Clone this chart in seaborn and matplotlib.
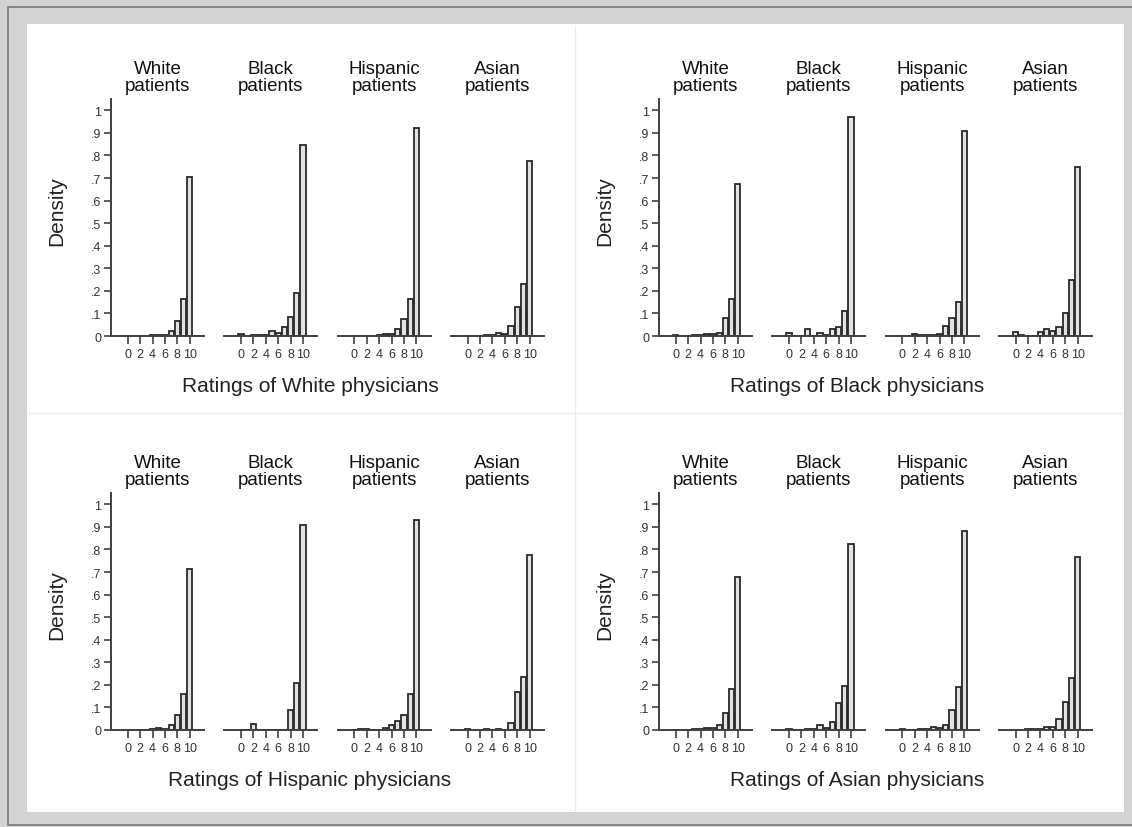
import matplotlib
matplotlib.use("Agg")
import matplotlib.pyplot as plt
from matplotlib.patches import Rectangle
from matplotlib.lines import Line2D
import seaborn as sns

ratings = list(range(11))
patient_groups = ["White", "Black", "Hispanic", "Asian"]
physician_groups = ["White", "Black", "Hispanic", "Asian"]

# density of each rating 0..10, one row per patient group (White, Black, Hispanic, Asian)
white_md = [
    [0, 0, 0, .002, .003, .005, .005, .02, .065, .165, .705],
    [.008, 0, .003, .004, .005, .02, .015, .04, .085, .19, .845],
    [.002, 0, .002, .002, .003, .01, .008, .03, .075, .165, .92],
    [0, 0, .002, .003, .005, .015, .01, .045, .13, .23, .775],
]
black_md = [
    [.003, 0, .002, .003, .003, .007, .007, .015, .078, .165, .675],
    [.015, 0, 0, .03, 0, .015, .005, .03, .04, .11, .97],
    [0, 0, .008, .003, .003, .003, .01, .045, .08, .15, .91],
    [.016, .003, 0, 0, .016, .03, .024, .042, .1, .25, .75],
]
hisp_md = [
    [0, 0, 0, 0, .003, .008, .005, .02, .065, .16, .715],
    [0, 0, .025, 0, 0, 0, 0, 0, .09, .21, .91],
    [0, .003, .003, 0, 0, .01, .02, .04, .065, .16, .93],
    [.005, 0, 0, .005, 0, .005, 0, .03, .17, .235, .775],
]
asian_md = [
    [0, 0, 0, .003, .003, .007, .007, .022, .075, .18, .68],
    [.003, 0, .002, .003, .003, .02, .01, .035, .12, .195, .825],
    [.003, 0, .002, .003, .005, .012, .007, .022, .09, .19, .88],
    [0, 0, .003, .005, .005, .015, .015, .05, .125, .23, .765],
]

sns.set_theme(style="white")
plt.rcParams["font.family"] = ["Liberation Sans", "DejaVu Sans"]

W, H = 1132, 828
fig = plt.figure(figsize=(W / 100, H / 100), dpi=100)
fig.patch.set_facecolor("#d3d3d3")

# window frame and white plot area
fig.add_artist(Rectangle((8 / W, 1 - 826 / H), 1.1, 818 / H, transform=fig.transFigure,
                         facecolor="#d3d3d3", edgecolor="#7a7a7a", lw=1.2, zorder=-10))
fig.add_artist(Rectangle((27 / W, 1 - 813 / H), (1124 - 27) / W, (813 - 25) / H,
                         transform=fig.transFigure, facecolor="white", edgecolor="none", zorder=-9))
fig.add_artist(Line2D([575 / W, 575 / W], [1 - 27 / H, 1 - 811 / H], transform=fig.transFigure,
                      color="#ececec", lw=1, zorder=-8))
fig.add_artist(Line2D([29 / W, 1122 / W], [1 - 414 / H, 1 - 414 / H], transform=fig.transFigure,
                      color="#ececec", lw=1, zorder=-8))

panels = [
    (white_md, physician_groups[0], 111, 337, 310),
    (black_md, physician_groups[1], 659, 337, 857),
    (hisp_md, physician_groups[2], 111, 731, 310),
    (asian_md, physician_groups[3], 659, 731, 857),
]

ink = "#333333"
for data, md, x0, y0, xlab in panels:
    for k, pt in enumerate(patient_groups):
        left = x0 + k * 113.3
        ax = fig.add_axes([left / W, 1 - y0 / H, 93 / W, 237 / H])
        ax.patch.set_alpha(0)
        sns.barplot(x=ratings, y=data[k], native_scale=True, width=0.85,
                    color="#e2e2e2", saturation=1, edgecolor="#2a2a2a",
                    linewidth=1.3, ax=ax)
        ax.set_xlim(-2.7, 12.3)
        ax.set_ylim(0, 1.05)
        ax.set_xlabel("")
        ax.set_ylabel("")
        ax.set_xticks([0, 2, 4, 6, 8, 10])
        ax.set_xticklabels(["0", "2", "4", "6", "8", "10"])
        ax.tick_params(axis="x", bottom=True, length=6, width=1.2, color="#404040",
                       labelsize=9, labelcolor=ink, pad=3)
        for s in ["top", "right"]:
            ax.spines[s].set_visible(False)
        ax.spines["bottom"].set_color("#404040")
        ax.spines["bottom"].set_linewidth(1.4)
        if k == 0:
            ax.spines["left"].set_color("#404040")
            ax.spines["left"].set_linewidth(1.4)
            yt = [i / 10 for i in range(11)]
            ax.set_yticks(yt)
            ax.set_yticklabels(["0"] + ["." + str(i) for i in range(1, 10)] + ["1"])
            ax.tick_params(axis="y", left=True, length=5, width=1.2, color="#404040",
                           labelsize=9, labelcolor=ink, pad=2)
        else:
            ax.spines["left"].set_visible(False)
            ax.set_yticks([])
        ax.text(0.5, 1.093, pt + "\npatients", transform=ax.transAxes, ha="center",
                va="center", fontsize=13.5, linespacing=0.95, color="#111111")
    fig.text((x0 - 54) / W, 1 - (y0 - 126) / H, "Density", rotation=90, ha="center",
             va="center", fontsize=15, color="#222222")
    fig.text(xlab / W, 1 - (y0 + 50) / H, "Ratings of " + md + " physicians",
             ha="center", va="center", fontsize=15, color="#222222")

fig.savefig("out.png", dpi=100, facecolor=fig.get_facecolor())
